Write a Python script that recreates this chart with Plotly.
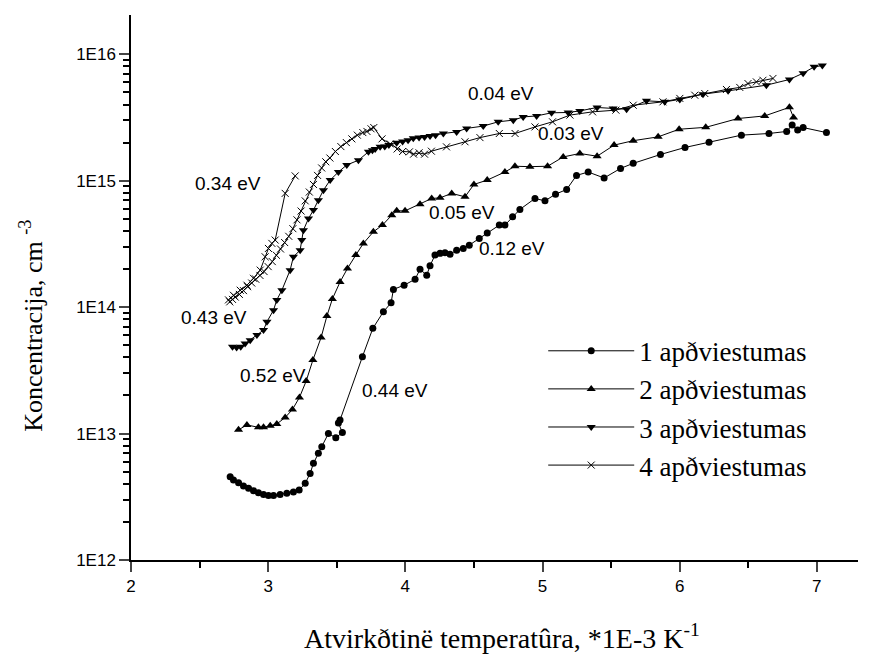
import math
import plotly.graph_objects as go

# ---------------- data ----------------
x1 = [2.723, 2.747, 2.784, 2.820, 2.857, 2.893, 2.929, 2.966, 3.002, 3.039, 3.087, 3.136,
      3.184, 3.226, 3.270, 3.306, 3.330, 3.366, 3.391, 3.439, 3.493, 3.541, 3.512, 3.524,
      3.687, 3.763, 3.840, 3.896, 3.913, 3.991, 4.071, 4.107, 4.156, 4.180, 4.216, 4.253,
      4.289, 4.326, 4.374, 4.422, 4.466, 4.539, 4.597, 4.685, 4.726, 4.782, 4.835, 4.945,
      5.018, 5.095, 5.176, 5.248, 5.333, 5.449, 5.569, 5.661, 5.860, 6.039, 6.214, 6.450,
      6.651, 6.78, 6.82, 6.86, 6.90, 7.07]
y1 = [4.56e12, 4.29e12, 4.08e12, 3.85e12, 3.69e12, 3.53e12, 3.40e12, 3.30e12, 3.24e12, 3.24e12,
      3.30e12, 3.37e12, 3.45e12, 3.57e12, 4.04e12, 4.84e12, 5.81e12, 6.97e12, 7.87e12, 1.00e13,
      9.27e12, 1.02e13, 1.21e13, 1.28e13, 4.05e13, 6.79e13, 9.18e13, 1.08e14, 1.38e14, 1.49e14,
      1.66e14, 1.99e14, 1.79e14, 2.12e14, 2.58e14, 2.66e14, 2.69e14, 2.62e14, 2.82e14, 2.91e14,
      3.09e14, 3.49e14, 3.86e14, 4.45e14, 4.45e14, 5.18e14, 5.92e14, 7.23e14, 6.92e14, 7.82e14,
      8.51e14, 1.10e15, 1.17e15, 1.05e15, 1.25e15, 1.37e15, 1.61e15, 1.83e15, 2.01e15, 2.29e15,
      2.36e15, 2.45e15, 2.75e15, 2.51e15, 2.63e15, 2.40e15]

x2 = [2.784, 2.845, 2.929, 2.966, 3.015, 3.063, 3.124, 3.177, 3.228, 3.277, 3.326, 3.386,
      3.428, 3.468, 3.524, 3.578, 3.639, 3.694, 3.767, 3.833, 3.901, 3.937, 3.998, 4.107,
      4.192, 4.253, 4.338, 4.435, 4.500, 4.597, 4.726, 4.799, 4.908, 5.037, 5.151, 5.272,
      5.398, 5.522, 5.661, 5.843, 5.996, 6.190, 6.425, 6.620, 6.80, 6.83]
y2 = [1.07e13, 1.17e13, 1.12e13, 1.12e13, 1.15e13, 1.19e13, 1.34e13, 1.55e13, 1.93e13, 2.60e13,
      3.81e13, 5.75e13, 8.49e13, 1.16e14, 1.58e14, 2.02e14, 2.58e14, 3.19e14, 3.94e14, 4.45e14,
      5.33e14, 5.77e14, 5.77e14, 6.52e14, 7.23e14, 7.31e14, 7.93e14, 7.45e14, 9.33e14, 1.01e15,
      1.17e15, 1.30e15, 1.29e15, 1.30e15, 1.54e15, 1.64e15, 1.56e15, 1.91e15, 2.07e15, 2.22e15,
      2.55e15, 2.64e15, 3.10e15, 3.25e15, 3.80e15, 3.16e15]

x3 = [2.74, 2.77, 2.80, 2.832, 2.869, 2.918, 2.966, 2.991, 3.039, 3.063, 3.100, 3.160, 3.184,
      3.233, 3.245, 3.257, 3.294, 3.330, 3.366, 3.403, 3.452, 3.512, 3.573, 3.658, 3.731,
      3.76, 3.78, 3.816, 3.85, 3.88, 3.937, 3.98, 4.02, 4.058, 4.10, 4.14, 4.180, 4.22, 4.277,
      4.374, 4.447, 4.568, 4.677, 4.787, 4.859, 4.957, 5.066, 5.187, 5.272, 5.398, 5.515,
      5.613, 5.758, 5.891, 6.001, 6.170, 6.353, 6.632, 6.80, 6.90, 6.98, 7.04]
y3 = [4.85e13, 4.79e13, 4.85e13, 5.16e13, 5.48e13, 6.01e13, 6.58e13, 7.66e13, 9.46e13, 1.14e14,
      1.36e14, 1.96e14, 2.50e14, 2.82e14, 3.39e14, 4.06e14, 5.02e14, 5.85e14, 7.01e14, 8.41e14,
      1.01e15, 1.17e15, 1.33e15, 1.45e15, 1.69e15, 1.74e15, 1.78e15, 1.85e15, 1.86e15, 1.91e15,
      1.99e15, 2.04e15, 2.09e15, 2.16e15, 2.19e15, 2.21e15, 2.25e15, 2.29e15, 2.36e15, 2.43e15,
      2.59e15, 2.70e15, 2.92e15, 3.01e15, 3.19e15, 3.25e15, 3.44e15, 3.46e15, 3.56e15, 3.79e15,
      3.72e15, 3.67e15, 4.28e15, 4.20e15, 4.39e15, 4.83e15, 5.13e15, 5.69e15, 6.31e15, 7.08e15,
      7.94e15, 8.13e15]

x4 = [3.197, 3.124, 3.051, 3.027, 3.002, 2.978, 2.942, 2.893, 2.845, 2.796, 2.747, 2.711,
      2.72, 2.74, 2.76, 2.79, 2.82, 2.85, 2.88, 2.91, 2.94, 2.97, 3.00, 3.03, 3.06, 3.09,
      3.12, 3.15, 3.18, 3.21, 3.24, 3.27, 3.30, 3.33, 3.36, 3.39, 3.42, 3.45, 3.49, 3.53,
      3.57, 3.61, 3.65, 3.69, 3.72, 3.75, 3.77, 3.83, 3.89, 3.94, 3.98, 4.03, 4.06, 4.10,
      4.14, 4.19, 4.30, 4.435, 4.544, 4.685, 4.80, 4.945, 5.073, 5.20, 5.365, 5.535, 5.661,
      5.878, 6.001, 6.110, 6.183, 6.341, 6.438, 6.498, 6.559, 6.607, 6.680]
y4 = [1.09e15, 7.93e14, 3.39e14, 3.19e14, 2.91e14, 2.50e14, 1.96e14, 1.69e14, 1.49e14, 1.36e14,
      1.24e14, 1.14e14,
      1.10e14, 1.15e14, 1.20e14, 1.26e14, 1.35e14, 1.45e14, 1.55e14, 1.66e14, 1.78e14, 1.91e14,
      2.09e14, 2.29e14, 2.57e14, 2.88e14, 3.24e14, 3.63e14, 4.17e14, 4.90e14, 5.75e14, 6.92e14,
      8.13e14, 9.33e14, 1.10e15, 1.26e15, 1.41e15, 1.51e15, 1.70e15, 1.86e15, 2.00e15, 2.14e15,
      2.29e15, 2.40e15, 2.45e15, 2.57e15, 2.63e15, 2.14e15, 1.95e15, 1.78e15, 1.70e15, 1.69e15,
      1.62e15, 1.66e15, 1.62e15, 1.71e15, 1.85e15, 2.03e15, 2.19e15, 2.36e15, 2.36e15, 2.66e15,
      2.92e15, 3.30e15, 3.50e15, 3.61e15, 3.95e15, 4.20e15, 4.47e15, 4.74e15, 4.89e15, 5.26e15,
      5.46e15, 5.86e15, 6.04e15, 6.22e15, 6.43e15]

series_names = ["1 apðviestumas", "2 apðviestumas", "3 apðviestumas", "4 apðviestumas"]

# activation-energy labels: (text, x, y)
label_text = ["0.34 eV", "0.43 eV", "0.52 eV", "0.44 eV", "0.05 eV", "0.12 eV", "0.04 eV", "0.03 eV"]
label_x = [2.454, 2.352, 2.781, 3.670, 4.158, 4.522, 4.442, 4.952]
label_y = [9.5e14, 8.3e13, 2.9e13, 2.2e13, 5.6e14, 2.9e14, 4.9e15, 2.37e15]

y_tick_vals = [1e12, 1e13, 1e14, 1e15, 1e16]
y_tick_text = ["1E12", "1E13", "1E14", "1E15", "1E16"]
x_tick_vals = [2, 3, 4, 5, 6, 7]

# ---------------- figure ----------------
SERIF = "Liberation Serif, Times New Roman, serif"
SANS = "Liberation Sans, Arial, sans-serif"

fig = go.Figure()
styles = [
    dict(symbol="circle", size=7, line=dict(width=0)),
    dict(symbol="triangle-up", size=8, line=dict(width=0)),
    dict(symbol="triangle-down", size=8, line=dict(width=0)),
    dict(symbol="x-thin", size=7, line=dict(width=1, color="black")),
]
for i, (xs, ys) in enumerate([(x1, y1), (x2, y2), (x3, y3), (x4, y4)]):
    fig.add_trace(go.Scatter(
        x=xs, y=ys, mode="lines+markers", name=series_names[i],
        legendgroup=str(i),
        line=dict(color="black", width=1),
        marker=dict(color="black", **styles[i]),
    ))

for t, lx, ly in zip(label_text, label_x, label_y):
    fig.add_annotation(x=lx, y=math.log10(ly), xref="x", yref="y", text=t,
                       showarrow=False, xanchor="left", yanchor="middle",
                       font=dict(family=SANS, size=19, color="black"))

minor_y = [m * 10 ** k for k in range(12, 16) for m in range(2, 10)]

fig.update_xaxes(
    range=[2, 7.3], tickvals=x_tick_vals, ticks="outside", ticklen=10, tickwidth=1.5,
    showline=True, linecolor="black", linewidth=1.5, showgrid=False, zeroline=False,
    tickfont=dict(family=SANS, size=17, color="black"),
    minor=dict(dtick=0.5, ticks="outside", ticklen=6, tickwidth=1.5, tickcolor="black", showgrid=False),
)
fig.update_yaxes(
    type="log", range=[12, 16.31], tickvals=y_tick_vals, ticktext=y_tick_text,
    ticks="outside", ticklen=10, tickwidth=1.5,
    showline=True, linecolor="black", linewidth=1.5, showgrid=False, zeroline=False,
    tickfont=dict(family=SANS, size=17, color="black"),
    minor=dict(tickvals=minor_y, ticks="outside", ticklen=6, tickwidth=1.5, tickcolor="black", showgrid=False),
)

fig.add_annotation(xref="paper", yref="paper", x=0.51, y=-0.141, xanchor="center", yanchor="middle",
                   text="Atvirkðtinë temperatûra, *1E-3 K<sup>-1</sup>", showarrow=False,
                   font=dict(family=SERIF, size=28, color="black"))
fig.add_annotation(xref="paper", yref="paper", x=-0.136, y=0.43, xanchor="center", yanchor="middle",
                   text="Koncentracija, cm <sup>-3</sup>", showarrow=False, textangle=-90,
                   font=dict(family=SERIF, size=26, color="black"))

fig.update_layout(
    width=877, height=657,
    margin=dict(l=131, r=19, t=15, b=97),
    paper_bgcolor="white", plot_bgcolor="white",
    showlegend=True,
    legend=dict(x=0.567, y=0.428, xanchor="left", yanchor="top",
                font=dict(family=SERIF, size=27, color="black"),
                itemwidth=86, tracegroupgap=0, bgcolor="rgba(0,0,0,0)"),
)

fig.write_html("out.html", config={"displayModeBar": False},
               post_script="document.body.style.margin='0';document.body.style.overflow='hidden';")
